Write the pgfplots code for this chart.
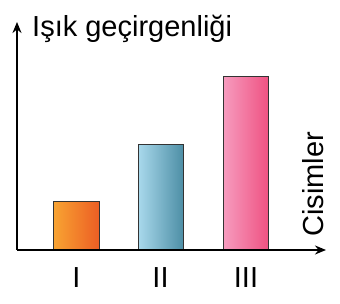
\documentclass[border=0pt]{standalone}
\usepackage{fontspec}
\setmainfont{Liberation Sans}
\usepackage{pgfplots}
\pgfplotsset{compat=1.18}
\usetikzlibrary{arrows.meta}
\definecolor{orL}{HTML}{F8A332}
\definecolor{orR}{HTML}{EC5E24}
\definecolor{blL}{HTML}{A9D9EC}
\definecolor{blR}{HTML}{4E8FA6}
\definecolor{pkL}{HTML}{F69BBE}
\definecolor{pkR}{HTML}{EF5282}
\begin{document}
\begin{tikzpicture}
\path[use as bounding box] (0,0) rectangle (340pt,304pt);
\begin{axis}[
  at={(17pt,54pt)}, anchor=south west,
  scale only axis, width=300pt, height=226pt,
  xmin=0, xmax=300, ymin=0, ymax=226,
  axis x line=bottom, axis y line=left,
  axis line style={draw=none},
  ytick=\empty,
  xtick={59.5,143.5,229}, xticklabels={I,II,III},
  major tick length=0pt,
  xticklabel style={font=\fontsize{29}{31}\selectfont, yshift=-14pt},
  clip=false,
  bar width=45pt,
]
\addplot[ybar, draw=black!80, line width=1pt, left color=orL, right color=orR] coordinates {(59.5,48)};
\addplot[ybar, draw=black!80, line width=1pt, left color=blL, right color=blR] coordinates {(143.5,105)};
\addplot[ybar, draw=black!80, line width=1pt, left color=pkL, right color=pkR] coordinates {(229,173)};
\draw[line width=2pt, -{Stealth[length=11pt,width=9pt]}] (axis cs:0,0) -- (axis cs:309,0);
\draw[line width=2pt, -{Stealth[length=11pt,width=9pt]}] (axis cs:0,0) -- (axis cs:0,228);
\node[anchor=base west, inner sep=0pt, font=\fontsize{29}{31}\selectfont] at (axis cs:15,213) {Işık geçirgenliği};
\node[anchor=base west, inner sep=0pt, rotate=90, font=\fontsize{29}{31}\selectfont] at (axis cs:306,13) {Cisimler};
\end{axis}
\end{tikzpicture}
\end{document}
